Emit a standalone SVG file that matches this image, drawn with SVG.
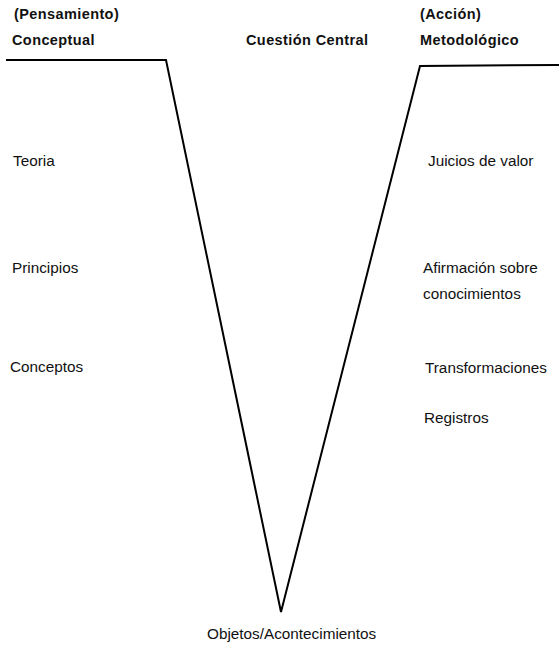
<svg xmlns="http://www.w3.org/2000/svg" width="559" height="651" viewBox="0 0 559 651">
<style>
.h{font-family:"Liberation Sans",Arial,sans-serif;font-size:14.5px;font-weight:bold;letter-spacing:0.4px;fill:#111}
.t{font-family:"Liberation Sans",Arial,sans-serif;font-size:15.3px;fill:#111}
.ln{fill:none;stroke:#000;stroke-width:2;stroke-linejoin:miter}
</style>
<rect width="559" height="651" fill="#fff"/>
<g id="connectors">
<polyline class="ln" points="6,60 166,60 281,612 420,66 559,65"/>
</g>
<g id="conceptual"><text class="h" x="14" y="19">(Pensamiento)</text><text class="h" x="12" y="45">Conceptual</text></g>
<g id="cuestion"><text class="h" x="246" y="45">Cuestión Central</text></g>
<g id="metodologico"><text class="h" x="420" y="19">(Acción)</text><text class="h" x="420" y="45">Metodológico</text></g>
<g id="teoria"><text class="t" x="13" y="166">Teoria</text></g>
<g id="principios"><text class="t" x="12" y="273">Principios</text></g>
<g id="conceptos"><text class="t" x="10" y="372">Conceptos</text></g>
<g id="juicios"><text class="t" x="428" y="166">Juicios de valor</text></g>
<g id="afirmacion"><text class="t" x="423" y="273">Afirmación sobre</text><text class="t" x="423" y="299">conocimientos</text></g>
<g id="transformaciones"><text class="t" x="425" y="373">Transformaciones</text></g>
<g id="registros"><text class="t" x="424" y="423">Registros</text></g>
<g id="objetos"><text class="t" x="207" y="639">Objetos/Acontecimientos</text></g>
</svg>
